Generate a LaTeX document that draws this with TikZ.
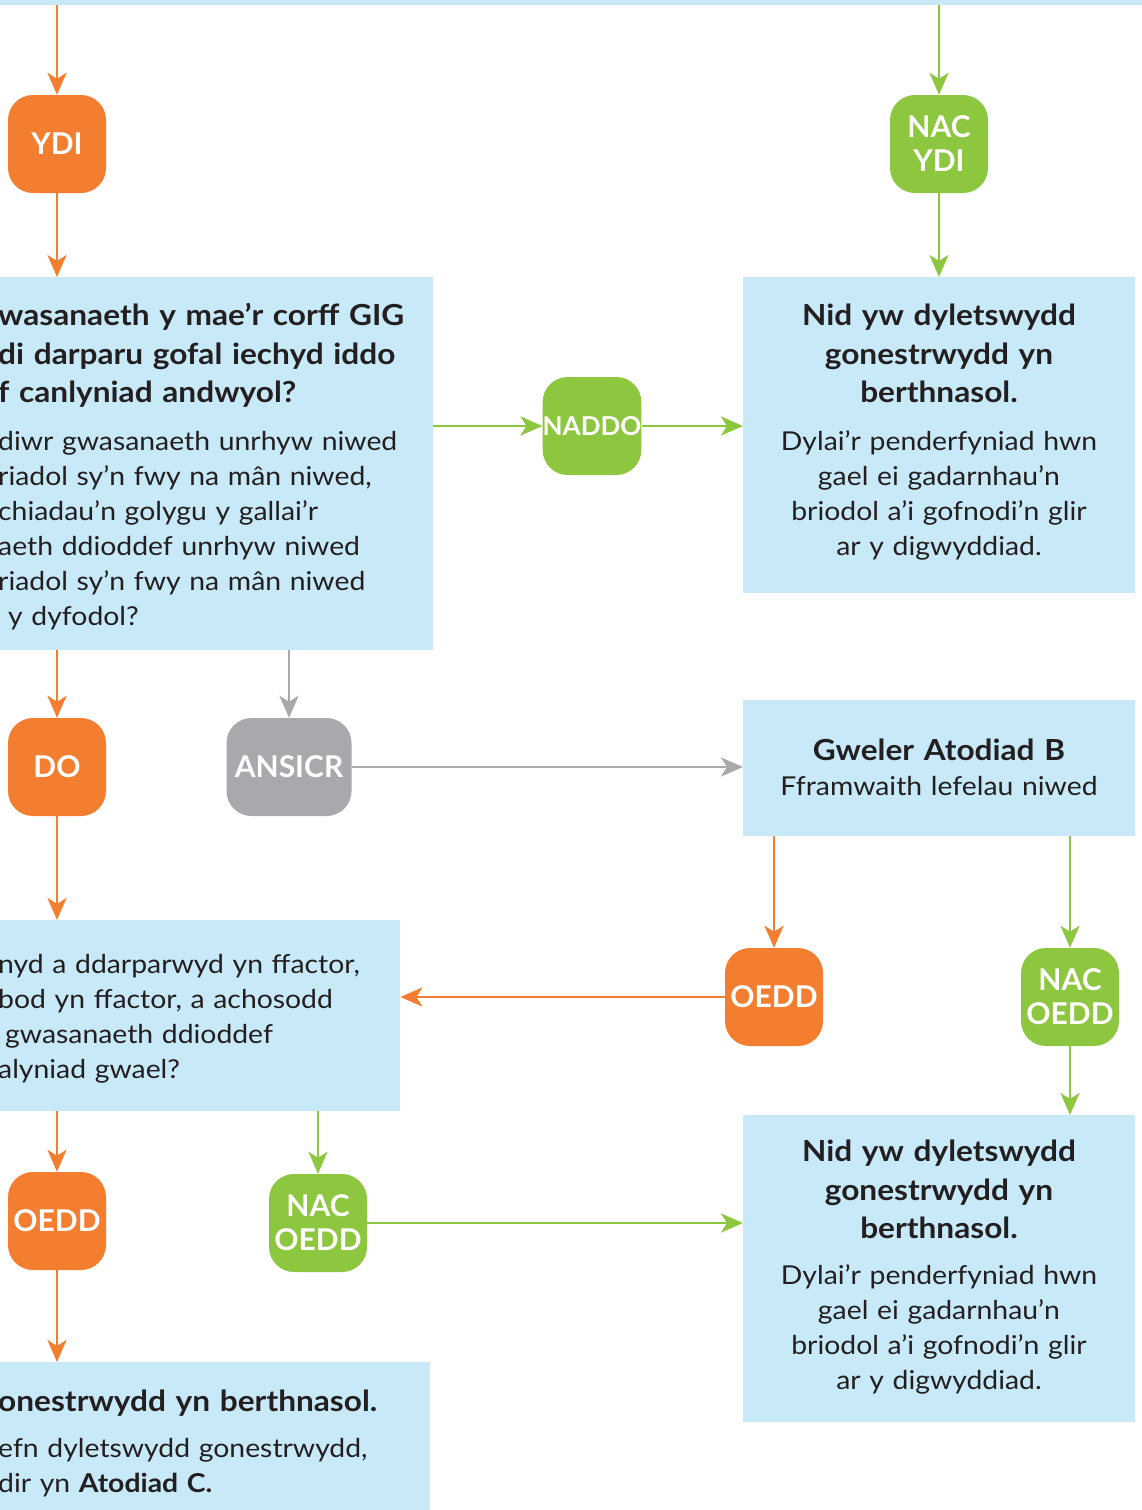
\documentclass[tikz,border=0pt]{standalone}
\usepackage{fontspec}
\setmainfont{Lato}[FakeStretch=1.09]
\newfontfamily\badgefont{Lato}
\usetikzlibrary{arrows.meta, positioning}

\definecolor{orng}{HTML}{F47E30}
\definecolor{grn}{HTML}{8DC63F}
\definecolor{gry}{HTML}{A7A9AC}
\definecolor{pale}{HTML}{C7E9F8}
\definecolor{ink}{HTML}{231F20}

\begin{document}
\begin{tikzpicture}[x=1pt, y=-1pt,
    box/.style = {fill=pale, inner sep=0pt, anchor=north west},
    badge/.style = {rounded corners=25pt, minimum size=98pt, inner sep=0pt, text=white, align=center, font=\badgefont\fontsize{30}{34}\selectfont\bfseries},
    yes/.style = {badge, fill=orng},
    no/.style = {badge, fill=grn},
    unsure/.style = {badge, fill=gry},
    head/.style = {inner sep=0pt, text=ink, font=\fontsize{29}{38.5}\selectfont\bfseries},
    body/.style = {inner sep=0pt, text=ink, font=\fontsize{26}{35}\selectfont},
    arr/.style = {line width=2.9pt, -{Stealth[length=22pt, width=19pt, inset=6pt]}}]
    \useasboundingbox (0,0) rectangle (1142,1510);
    \clip (0,0) rectangle (1142,1510);

    % boxes
    \node[box, minimum width=1300pt, minimum height=55pt] (prev) at (-80,-50) {};
    \node[box, minimum width=733pt, minimum height=373pt] (q1) at (-300,277) {};
    \node[box, minimum width=392pt, minimum height=316pt] (res1) at (743,277) {};
    \node[box, minimum width=392pt, minimum height=136pt] (atod) at (743,700) {};
    \node[box, minimum width=700pt, minimum height=191pt] (q2) at (-300,920) {};
    \node[box, minimum width=730pt, minimum height=200pt] (res2) at (-300,1362) {};
    \node[box, minimum width=392pt, minimum height=307pt] (res3) at (743,1115) {};

    % badges
    \node[yes] (ydi) at (57,144) {YDI};
    \node[no] (nacydi) at (939,144) {NAC\\YDI};
    \node[no, font=\badgefont\fontsize{26}{34}\selectfont\bfseries] (naddo) at (592,426) {NADDO};
    \node[yes] (do) at (57,767) {DO};
    \node[unsure, minimum width=125pt] (ansicr) at (289,767) {ANSICR};
    \node[yes] (oedd1) at (774,997) {OEDD};
    \node[no] (nacoedd1) at (1070,997) {NAC\\OEDD};
    \node[yes] (oedd2) at (57,1221) {OEDD};
    \node[no] (nacoedd2) at (318,1223) {NAC\\OEDD};

    % texts
    \node[head, text width=600pt, align=left, anchor=north west] (q1h) at (-2,303) {wasanaeth y mae’r corff GIG\\di darparu gofal iechyd iddo\\f canlyniad andwyol?};
    \node[body, text width=600pt, align=left, below=24pt of q1h.south west, anchor=north west] (q1b) {diwr gwasanaeth unrhyw niwed\\riadol sy’n fwy na mân niwed,\\chiadau’n golygu y gallai’r\\aeth ddioddef unrhyw niwed\\riadol sy’n fwy na mân niwed\\\hspace*{10pt}y dyfodol?};
    \node[head, text width=392pt, align=center, anchor=north] (res1h) at (939,304) {Nid yw dyletswydd\\gonestrwydd yn\\berthnasol.};
    \node[body, text width=392pt, align=center, below=27pt of res1h] (res1b) {Dylai’r penderfyniad hwn\\gael ei gadarnhau’n\\briodol a’i gofnodi’n glir\\ar y digwyddiad.};
    \node[head, text width=392pt, align=center, anchor=north] (atodh) at (939,739) {Gweler Atodiad B};
    \node[body, text width=392pt, align=center, below=15pt of atodh] (atodb) {Fframwaith lefelau niwed};
    \node[body, text width=600pt, align=left, anchor=north west] (q2b) at (-2,954) {nyd a ddarparwyd yn ffactor,\\bod yn ffactor, a achosodd\\\hspace*{7pt}gwasanaeth ddioddef\\alyniad gwael?};
    \node[head, text width=600pt, align=left, anchor=north west] (res2h) at (-2,1390) {onestrwydd yn berthnasol.};
    \node[body, text width=600pt, align=left, below=21pt of res2h.south west, anchor=north west] (res2b) {efn dyletswydd gonestrwydd,\\dir yn \textbf{Atodiad C.}};
    \node[head, text width=392pt, align=center, anchor=north] (res3h) at (939,1140) {Nid yw dyletswydd\\gonestrwydd yn\\berthnasol.};
    \node[body, text width=392pt, align=center, below=25pt of res3h] (res3b) {Dylai’r penderfyniad hwn\\gael ei gadarnhau’n\\briodol a’i gofnodi’n glir\\ar y digwyddiad.};

    % connectors
    \draw[arr, orng] (prev.south -| ydi) -- (ydi);
    \draw[arr, orng] (ydi) -- (q1.north -| ydi);
    \draw[arr, grn] (prev.south -| nacydi) -- (nacydi);
    \draw[arr, grn] (nacydi) -- (res1.north -| nacydi);
    \draw[arr, grn] (q1.east |- naddo) -- (naddo);
    \draw[arr, grn] (naddo) -- (res1.west |- naddo);
    \draw[arr, orng] (q1.south -| do) -- (do);
    \draw[arr, gry] (q1.south -| ansicr) -- (ansicr);
    \draw[arr, gry] (ansicr) -- (atod.west |- ansicr);
    \draw[arr, orng] (do) -- (q2.north -| do);
    \draw[arr, orng] (atod.south -| oedd1) -- (oedd1);
    \draw[arr, grn] (atod.south -| nacoedd1) -- (nacoedd1);
    \draw[arr, orng] (oedd1) -- (q2.east |- oedd1);
    \draw[arr, grn] (nacoedd1) -- (res3.north -| nacoedd1);
    \draw[arr, orng] (q2.south -| oedd2) -- (oedd2);
    \draw[arr, grn] (q2.south -| nacoedd2) -- (nacoedd2);
    \draw[arr, orng] (oedd2) -- (res2.north -| oedd2);
    \draw[arr, grn] (nacoedd2) -- (res3.west |- nacoedd2);
\end{tikzpicture}
\end{document}
